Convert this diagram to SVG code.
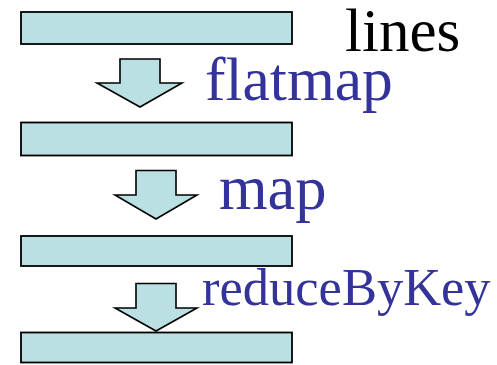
<svg xmlns="http://www.w3.org/2000/svg" width="497" height="365" viewBox="0 0 497 365">
  <style>
    .bar { fill: #BBE0E3; stroke: #000; stroke-width: 1.8; }
    .step { fill: #BBE0E3; stroke: #000; stroke-width: 1.6; stroke-linejoin: miter; }
    .label { font-family: "Liberation Serif", "Times New Roman", serif; }
    .op { fill: #333399; }
  </style>
  <rect width="497" height="365" fill="#fff"/>

  <!-- data stages -->
  <g id="stage-lines">
    <rect class="bar" x="21" y="12" width="271" height="32"/>
    <text class="label" x="345" y="50.5" font-size="61" fill="#000">lines</text>
  </g>
  <g id="stage-flatmapped">
    <rect class="bar" x="21" y="122.5" width="271" height="33"/>
  </g>
  <g id="stage-mapped">
    <rect class="bar" x="21" y="236" width="271" height="30"/>
  </g>
  <g id="stage-reduced">
    <rect class="bar" x="21" y="332.5" width="271" height="30"/>
  </g>

  <!-- transformation arrows -->
  <g id="connectors">
    <g id="op-flatmap">
      <polygon class="step" points="120,59 160,59 160,83 182,83 140,107 97,83 120,83"/>
      <text class="label op" x="205" y="100" font-size="61.5">flatmap</text>
    </g>
    <g id="op-map">
      <polygon class="step" points="136,170.5 176,170.5 176,195 197,195 156,219 115,195 136,195"/>
      <text class="label op" x="219" y="209" font-size="62.5">map</text>
    </g>
    <g id="op-reducebykey">
      <polygon class="step" points="136,283.5 176,283.5 176,308 197,308 156,331 115,308 136,308"/>
      <text class="label op" x="202" y="304.5" font-size="52.5">reduceByKey</text>
    </g>
  </g>
</svg>
